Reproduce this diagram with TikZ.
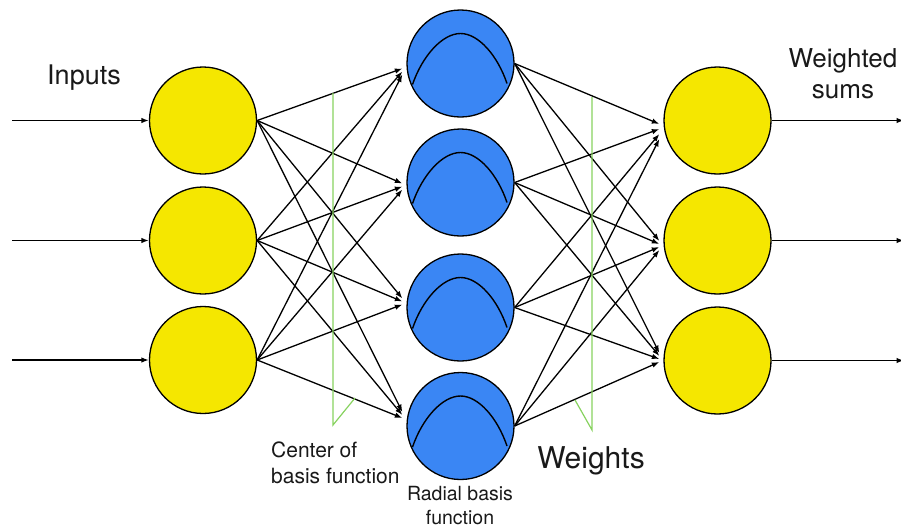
\documentclass[tikz,border=0pt]{standalone}
\usepackage{fontspec}
\setmainfont{TeX Gyre Heros}
\usetikzlibrary{arrows.meta,calc}
\definecolor{nodeyellow}{RGB}{245,231,0}
\definecolor{nodeblue}{RGB}{58,134,244}
\definecolor{guidegreen}{RGB}{135,210,95}
\tikzset{
  unit/.style={circle,draw=black,line width=1.3pt,minimum size=107pt,inner sep=0pt},
  ionode/.style={unit,fill=nodeyellow},
  rbfnode/.style={unit,fill=nodeblue},
  link/.style={line width=1.3pt,-{Latex[length=7.5pt,width=5.5pt]}},
  bell/.style={line width=1.4pt},
  guide/.style={guidegreen,line width=1.2pt},
  lbl/.style={inner sep=0pt,text=black!90}
}
\begin{document}
\begin{tikzpicture}[x=1pt,y=-1pt]
\useasboundingbox (0,0) rectangle (901,531);

% input layer
\node[ionode] (in1) at (203,120.5) {};
\node[ionode] (in2) at (203,240.5) {};
\node[ionode] (in3) at (203,360) {};

% radial basis layer
\node[rbfnode] (h1) at (460.5,63.5) {};
\node[rbfnode] (h2) at (460.5,182.5) {};
\node[rbfnode] (h3) at (460.5,307.5) {};
\node[rbfnode] (h4) at (460.5,426) {};

% output layer
\node[ionode] (o1) at (717.5,120.5) {};
\node[ionode] (o2) at (717.5,240.5) {};
\node[ionode] (o3) at (717.5,360.5) {};

% bell curve inside every basis unit
\foreach \h in {h1,h2,h3,h4}{
  \draw[bell] ($(\h.center)+(-48,21)$)
    .. controls ($(\h.center)+(-38,-8)$) and ($(\h.center)+(-18,-30)$) .. ($(\h.center)+(0,-30)$)
    .. controls ($(\h.center)+(18,-30)$) and ($(\h.center)+(37,-8)$) .. ($(\h.center)+(46.5,20)$);
}

% external inputs and outputs
\foreach \i/\y in {1/120.5,2/240.5,3/360}{
  \coordinate (src\i) at (12,\y);
  \draw[link] (src\i) -- (in\i.west);
}
\foreach \i/\y in {1/120.5,2/240.5,3/360.5}{
  \coordinate (dst\i) at (904,\y);
  \draw[link] (o\i.east) -- (dst\i);
}

% inputs -> basis units
\foreach \j/\b in {1/8,2/4,3/-6,4/-11}{
  \foreach \i in {1,2,3}{
    \coordinate (t\i\j) at ($(h\j.west)+(-4,{\b+3*(\i-2)})$);
    \draw[link] (in\i.east) -- (t\i\j);
  }
}

% basis units -> outputs
\foreach \i/\b/\s in {1/11/5,2/5/3,3/-3/3}{
  \foreach \j in {1,2,3,4}{
    \coordinate (u\j\i) at ($(o\i.west)+(-4,{\b+\s*(\j-2.5)})$);
    \draw[link] (h\j.east) -- (u\j\i);
  }
}

% pointers for the annotations
\coordinate (ca) at (333,93);
\coordinate (cb) at (333,425);
\coordinate (cc) at (355,398);
\draw[guide] (ca) -- (cb) -- (cc);
\coordinate (wa) at (592,97);
\coordinate (wb) at (592,430);
\coordinate (wc) at (575,400);
\draw[guide] (wa) -- (wb) -- (wc);

% labels (multi-line labels are anchored at the baseline of their last line)
\node[lbl,anchor=base,font=\fontsize{27}{32}\selectfont] (linputs) at (84,84) {Inputs};
\node[lbl,anchor=base,align=center,font=\fontsize{26}{31}\selectfont] (lsums) at (843,98) {Weighted\\sums};
\node[lbl,anchor=base west,align=left,font=\fontsize{21}{26}\selectfont] (lcenter) at (271,483) {Center of\\basis function};
\node[lbl,anchor=base,font=\fontsize{30}{36}\selectfont] (lweights) at (591,468) {Weights};
\node[lbl,anchor=base,align=center,font=\fontsize{19.5}{24}\selectfont] (lradial) at (460,524) {Radial basis\\function};
\end{tikzpicture}
\end{document}
